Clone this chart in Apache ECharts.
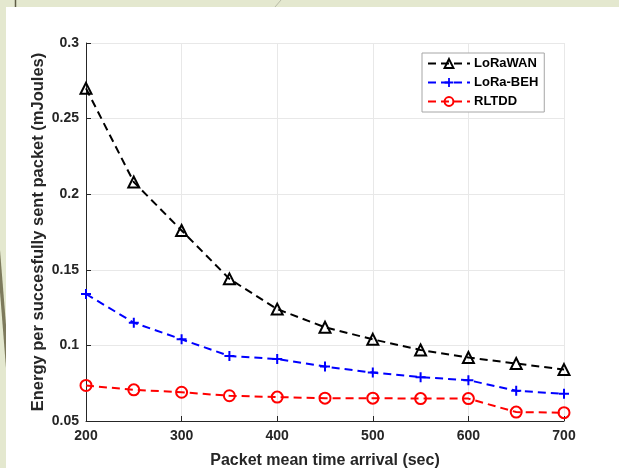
<!DOCTYPE html>
<html>
<head>
<meta charset="utf-8">
<script src="https://cdn.jsdelivr.net/npm/echarts@6/dist/echarts.min.js"></script>
<style>
html,body{margin:0;padding:0;background:#e4e8cf;}
#chart{width:619px;height:468px;}
</style>
</head>
<body>
<div id="chart"></div>
<script>
// ---- data ----
const arrivalTimes = [200, 250, 300, 350, 400, 450, 500, 550, 600, 650, 700];
const loraWAN = [0.270, 0.208, 0.176, 0.144, 0.124, 0.112, 0.104, 0.097, 0.092, 0.088, 0.084];
const loraBEH = [0.134, 0.115, 0.104, 0.093, 0.091, 0.086, 0.082, 0.079, 0.077, 0.070, 0.068];
const rltdd   = [0.0735, 0.0706, 0.069, 0.0667, 0.0658, 0.0651, 0.0651, 0.0648, 0.0648, 0.0559, 0.0555];
const seriesNames = ['LoRaWAN', 'LoRa-BEH', 'RLTDD'];
const xTickLabels = ['200', '300', '400', '500', '600', '700'];
const yTickLabels = ['0.05', '0.1', '0.15', '0.2', '0.25', '0.3'];
const xAxisTitle = 'Packet mean time arrival (sec)';
const yAxisTitle = 'Energy per succesfully sent packet (mJoules)';

const pairs = (ys) => arrivalTimes.map((x, i) => [x, ys[i]]);
const FONT = '"Liberation Sans", Arial, sans-serif';
const plusPath = 'path://M4,0h2v4h4v2h-4v4h-2v-4h-4v-2h4z';

function mkSeries(name, ys, color, symbol, size, filled) {
  return {
    name: name,
    type: 'line',
    data: pairs(ys),
    symbol: symbol,
    symbolSize: size,
    showAllSymbol: true,
    z: 3,
    lineStyle: { color: color, width: 2, type: [8, 5] },
    itemStyle: filled
      ? { color: color, borderWidth: 0 }
      : { color: 'rgba(255,255,255,0)', borderColor: color, borderWidth: 2 },
    emphasis: { disabled: true }
  };
}

const chart = echarts.init(document.getElementById('chart'), null, { renderer: 'canvas' });
chart.setOption({
  animation: false,
  backgroundColor: '#e4e8cf',
  textStyle: { fontFamily: FONT },
  graphic: [
    { type: 'rect', z: -100, silent: true, shape: { x: 6, y: 7, width: 613, height: 461 }, style: { fill: '#ffffff' } },
    { type: 'line', z: -99, silent: true, shape: { x1: 15.5, y1: 0, x2: 15.5, y2: 7 }, style: { stroke: '#5f5d45', lineWidth: 1.5 } },
    { type: 'line', z: -99, silent: true, shape: { x1: 281, y1: 0, x2: 275, y2: 7 }, style: { stroke: '#b9bba6', lineWidth: 1 } },
    { type: 'polygon', z: -99, silent: true, shape: { points: [[0, 250], [6, 325], [6, 368], [0, 292]] }, style: { fill: '#7d7a5c' } }
  ],
  grid: { left: 86, right: 55, top: 43, bottom: 47, containLabel: false, outerBoundsMode: 'none' },
  legend: {
    orient: 'vertical',
    left: 422,
    top: 53,
    padding: [4, 6, 4, 5],
    itemGap: 6,
    itemWidth: 42,
    itemHeight: 11,
    backgroundColor: '#ffffff',
    borderColor: '#a6a6a6',
    borderWidth: 1,
    borderRadius: 0,
    textStyle: { fontFamily: FONT, fontWeight: 'bold', fontSize: 13, color: '#000000', padding: [0, 0, 0, -1] },
    data: seriesNames
  },
  xAxis: {
    type: 'value',
    min: 200,
    max: 700,
    interval: 100,
    name: xAxisTitle,
    nameLocation: 'middle',
    nameGap: 32,
    nameMoveOverlap: false,
    nameTextStyle: { fontFamily: FONT, fontWeight: 'bold', fontSize: 16, color: '#262626' },
    axisLine: { show: true, onZero: false, lineStyle: { color: '#262626', width: 1 } },
    axisTick: { show: true, inside: true, length: 5, lineStyle: { color: '#262626' } },
    axisLabel: {
      margin: 8,
      fontFamily: FONT, fontWeight: 'bold', fontSize: 14, color: '#262626',
      formatter: (v) => xTickLabels[Math.round((v - 200) / 100)]
    },
    splitLine: { show: true, lineStyle: { color: '#e8e8e8', width: 1 } }
  },
  yAxis: {
    type: 'value',
    min: 0.05,
    max: 0.3,
    interval: 0.05,
    name: yAxisTitle,
    nameLocation: 'middle',
    nameGap: 39,
    nameMoveOverlap: false,
    nameTextStyle: { fontFamily: FONT, fontWeight: 'bold', fontSize: 16.5, color: '#262626' },
    axisLine: { show: true, onZero: false, lineStyle: { color: '#262626', width: 1 } },
    axisTick: { show: true, inside: true, length: 5, lineStyle: { color: '#262626' } },
    axisLabel: {
      margin: 7,
      fontFamily: FONT, fontWeight: 'bold', fontSize: 14, color: '#262626',
      formatter: (v) => yTickLabels[Math.round((v - 0.05) / 0.05)]
    },
    splitLine: { show: true, lineStyle: { color: '#e8e8e8', width: 1 } }
  },
  series: [
    mkSeries(seriesNames[0], loraWAN, '#000000', 'triangle', 11, false),
    mkSeries(seriesNames[1], loraBEH, '#0000ff', plusPath, 10, true),
    mkSeries(seriesNames[2], rltdd, '#ff0000', 'circle', 11, false)
  ]
});
</script>
</body>
</html>
